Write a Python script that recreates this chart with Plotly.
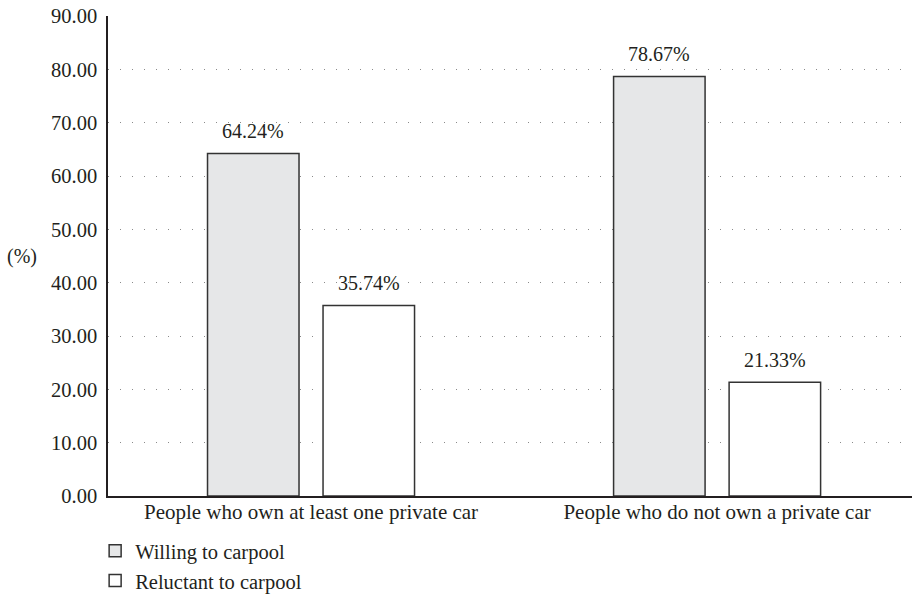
import plotly.graph_objects as go

categories = ["People who own at least one private car", "People who do not own a private car"]
series_names = ["Willing to carpool", "Reluctant to carpool"]
willing = [64.24, 78.67]
reluctant = [35.74, 21.33]
y_ticks = [0, 10, 20, 30, 40, 50, 60, 70, 80, 90]

FONT = "Liberation Serif"
TXT = "#231f20"
W, H = 912, 597
ML, MR, MT, MB = 108, 0, 16, 101
XR = [-0.5, 1.48]
BARGAP, GROUPGAP = 0.431, 0.208

px_per_cat = (W - ML - MR) / (XR[1] - XR[0])
slot = (1 - BARGAP) * px_per_cat / 2
offsets = [-slot / 2, slot / 2]

fig = go.Figure()
fills = ["#e6e7e8", "#ffffff"]
for name, vals, fill in zip(series_names, [willing, reluctant], fills):
    fig.add_trace(go.Bar(
        x=categories, y=vals, name=name,
        marker=dict(color=fill, line=dict(color="#333333", width=1.5)),
    ))

for vals, off in zip([willing, reluctant], offsets):
    for c, v in zip(categories, vals):
        fig.add_annotation(x=c, y=v, xref="x", yref="y", text=f"{v:.2f}%",
                           showarrow=False, xshift=off, yshift=9, yanchor="bottom",
                           font=dict(family=FONT, size=20, color=TXT))

fig.add_annotation(x=(39 - ML) / (W - ML - MR), y=0.5, xref="paper", yref="paper",
                   text="(%)", showarrow=False, xanchor="right", yanchor="middle",
                   font=dict(family=FONT, size=20, color=TXT))

fig.update_layout(
    width=W, height=H,
    margin=dict(l=ML, r=MR, t=MT, b=MB, autoexpand=False),
    paper_bgcolor="white", plot_bgcolor="white",
    barmode="group", bargap=BARGAP, bargroupgap=GROUPGAP,
    font=dict(family=FONT, size=20, color=TXT),
    showlegend=True,
    legend=dict(orientation="v", x=-0.016, xanchor="left", y=-0.073, yanchor="top",
                font=dict(family=FONT, size=20.5, color=TXT), bgcolor="rgba(0,0,0,0)",
                tracegroupgap=0),
    xaxis=dict(range=XR, showline=True, linecolor="#231f20", linewidth=1.5,
               showgrid=False, ticks="", ticklabelstandoff=-4,
               tickfont=dict(family=FONT, size=21, color=TXT)),
    yaxis=dict(range=[0, 90], tickvals=y_ticks, tickformat=".2f", showline=True,
               linecolor="#231f20", linewidth=1.5, ticks="", zeroline=False,
               ticklabelstandoff=5,
               showgrid=True, gridcolor="#8a8a8a", gridwidth=1.2, griddash="1px,11px",
               tickfont=dict(family=FONT, size=20.5, color=TXT)),
)

fig.write_html("out.html")
